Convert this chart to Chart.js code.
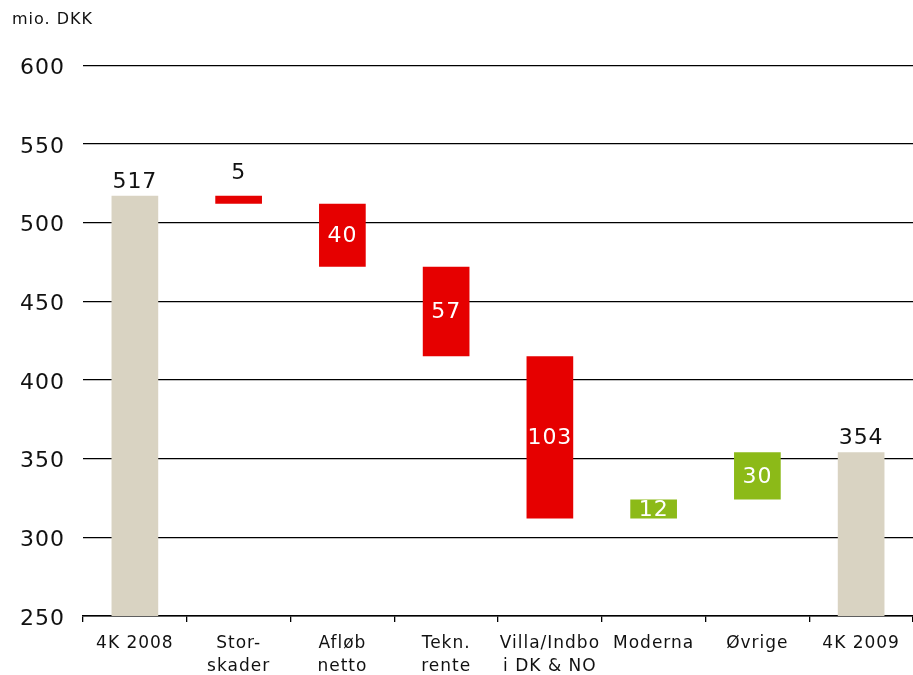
<!DOCTYPE html>
<html><head><meta charset="utf-8">
<script src="https://cdn.jsdelivr.net/npm/chart.js@4"></script>
<style>html,body{margin:0;padding:0;background:#fff}#wrap{width:913px;height:675px}</style>
</head><body><div id="wrap"><canvas id="c"></canvas></div>
<script>
const categories = ['4K 2008', ['Stor-','skader'], ['Afløb','netto'], ['Tekn.','rente'], ['Villa/Indbo','i DK & NO'], 'Moderna', 'Øvrige', '4K 2009'];
const barStarts = [250, 517, 512, 472, 415, 312, 324, 250];
const barEnds   = [517, 512, 472, 415, 312, 324, 354, 354];
const valueLabels = ['517', '5', '40', '57', '103', '12', '30', '354'];
const barKinds = ['total', 'down', 'down', 'down', 'down', 'up', 'up', 'total'];
const yTicks = [250, 300, 350, 400, 450, 500, 550, 600];

const kindColor = {total: '#d9d3c2', down: '#e60000', up: '#8cba18'};
const FONT = "'DejaVu Sans', Verdana, sans-serif";

const spacingPlugin = {
  id: 'spacing',
  beforeUpdate(chart) { chart.ctx.letterSpacing = '1px'; },
  beforeLayout(chart) { chart.ctx.letterSpacing = '1px'; },
  beforeDraw(chart) { chart.ctx.letterSpacing = '1px'; }
};

const labelPlugin = {
  id: 'valueLabels',
  afterDatasetsDraw(chart) {
    const ctx = chart.ctx;
    const meta = chart.getDatasetMeta(0);
    ctx.save();
    ctx.font = '22px ' + FONT;
    ctx.textAlign = 'center';
    meta.data.forEach((bar, i) => {
      const kind = barKinds[i];
      const top = Math.min(bar.y, bar.base);
      const bottom = Math.max(bar.y, bar.base);
      const h = bottom - top;
      if (kind === 'total' || h < 15) {
        ctx.fillStyle = '#111';
        ctx.textBaseline = 'bottom';
        ctx.fillText(valueLabels[i], bar.x, top - (kind === 'total' ? 3 : 12));
      } else {
        ctx.fillStyle = '#fff';
        ctx.textBaseline = 'middle';
        ctx.fillText(valueLabels[i], bar.x, (top + bottom) / 2 + 1);
      }
    });
    ctx.restore();
  }
};

new Chart(document.getElementById('c'), {
  type: 'bar',
  data: {
    labels: categories,
    datasets: [{
      data: barStarts.map((s, i) => [s, barEnds[i]]),
      backgroundColor: barKinds.map(k => kindColor[k]),
      borderWidth: 0,
      barPercentage: 0.45,
      categoryPercentage: 1.0
    }]
  },
  options: {
    responsive: true,
    maintainAspectRatio: false,
    animation: false,
    layout: {padding: {left: 12, right: 0, top: 10, bottom: 0}},
    plugins: {
      legend: {display: false},
      tooltip: {enabled: false},
      title: {
        display: true, text: 'mio. DKK', align: 'start', color: '#111',
        font: {family: FONT, size: 16, weight: 'normal'},
        padding: {top: 0, bottom: 36}
      }
    },
    scales: {
      x: {
        afterFit: (s) => { s.height = 59; },
        grid: {display: true, drawOnChartArea: false, drawTicks: true, tickLength: 6, color: '#000', lineWidth: 1.3, offset: true},
        border: {display: true, color: '#000', width: 1.5},
        ticks: {color: '#111', font: {family: FONT, size: 17, lineHeight: 1.3}, padding: 11, maxRotation: 0, autoSkip: false}
      },
      y: {
        min: 250, max: 600,
        afterBuildTicks: (s) => { s.ticks = yTicks.map(v => ({value: v})); },
        afterFit: (s) => { s.width = 71; },
        grid: {color: '#000', lineWidth: 1.3, drawTicks: false},
        border: {display: false},
        ticks: {color: '#111', font: {family: FONT, size: 22}, padding: 18, labelOffset: 3}
      }
    }
  },
  plugins: [spacingPlugin, labelPlugin]
});
</script></body></html>
